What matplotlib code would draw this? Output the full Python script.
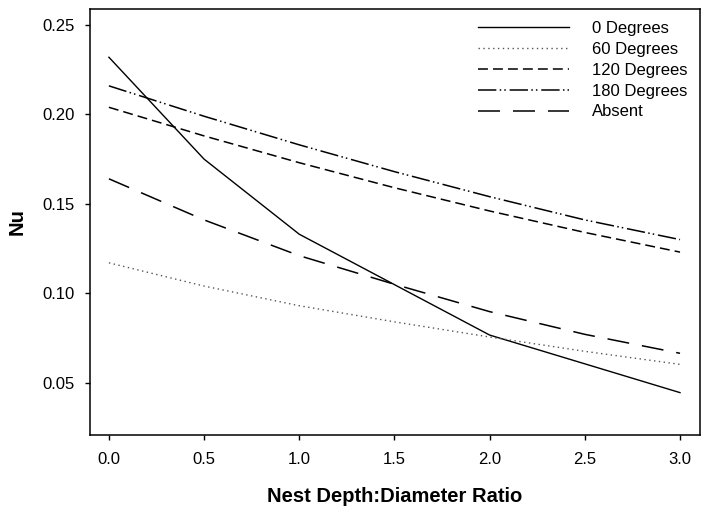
import numpy as np
import matplotlib
matplotlib.use("Agg")
import matplotlib.pyplot as plt

plt.rcParams['font.family'] = ['Liberation Sans', 'DejaVu Sans']

ratio = [0.0, 0.5, 1.0, 1.5, 2.0, 2.5, 3.0]
nu_0 = [0.232, 0.175, 0.133, 0.1048, 0.0766, 0.0605, 0.0444]
nu_60 = [0.117, 0.104, 0.093, 0.084, 0.0755, 0.0675, 0.0602]
nu_120 = [0.204, 0.188, 0.173, 0.159, 0.146, 0.134, 0.123]
nu_180 = [0.216, 0.199, 0.183, 0.168, 0.154, 0.141, 0.130]
nu_absent = [0.164, 0.141, 0.121, 0.105, 0.0897, 0.077, 0.0664]

fig = plt.figure(figsize=(7.09, 5.16), dpi=100)
ax = fig.add_axes([0.1265, 0.157, 0.8608, 0.8256])

ax.plot(ratio, nu_0, color='black', lw=1.0, ls='-', label='0 Degrees')
ax.plot(ratio, nu_60, color='#555555', lw=1.0, ls=(0, (1, 2.5)), label='60 Degrees')
ax.plot(ratio, nu_120, color='black', lw=1.1, ls=(0, (6.5, 3.3)), label='120 Degrees')
ax.plot(ratio, nu_180, color='black', lw=1.1, ls=(0, (12, 2.2, 1, 2, 1, 2.5)), label='180 Degrees')
ax.plot(ratio, nu_absent, color='black', lw=1.1, ls=(0, (14.4, 8.5)), label='Absent')

ax.set_xlim(-0.101, 3.105)
ax.set_ylim(0.0207, 0.259)
ax.set_xticks([0.0, 0.5, 1.0, 1.5, 2.0, 2.5, 3.0])
ax.set_xticklabels(['0.0', '0.5', '1.0', '1.5', '2.0', '2.5', '3.0'])
ax.set_yticks([0.05, 0.10, 0.15, 0.20, 0.25])
ax.set_yticklabels(['0.05', '0.10', '0.15', '0.20', '0.25'])
ax.tick_params(direction='out', length=3.6, width=1, labelsize=12)
ax.tick_params(axis='x', pad=9)
ax.tick_params(axis='y', pad=7)
for s in ax.spines.values():
    s.set_linewidth(1.1)

ax.set_xlabel('Nest Depth:Diameter Ratio', fontsize=14.5, fontweight='bold', labelpad=14)
ax.set_ylabel('Nu', fontsize=14.5, fontweight='bold', labelpad=11.3)

ax.legend(loc='upper right', frameon=False, fontsize=12, handlelength=5.5,
          handletextpad=1.38, labelspacing=0.35, borderaxespad=0.33)

fig.savefig('out.png', dpi=100)
